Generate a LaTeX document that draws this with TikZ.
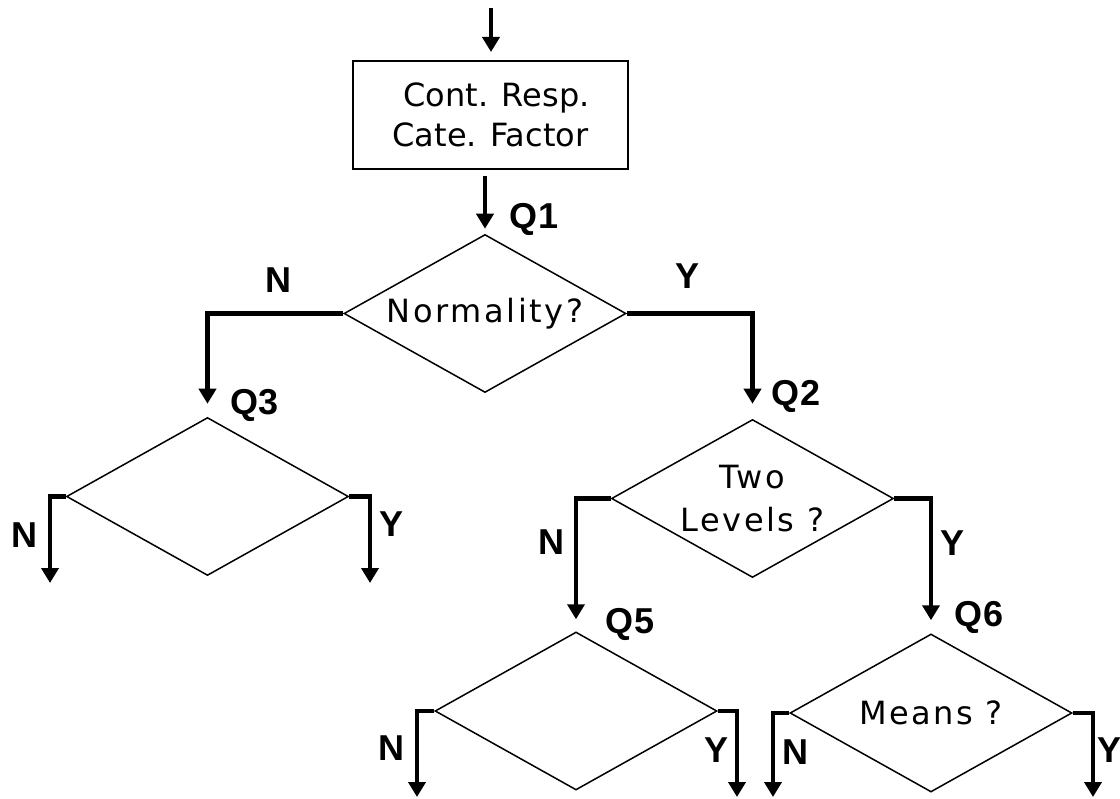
\documentclass[tikz,border=0pt]{standalone}
\usepackage{fontspec}
\setmainfont{Liberation Sans}
\newfontfamily\dfont[LetterSpace=8]{DejaVu Sans}
\newfontfamily\bfont{DejaVu Sans}
\usetikzlibrary{shapes.geometric,arrows.meta}
\begin{document}
\begin{tikzpicture}[x=1pt,y=-1pt,
  dec/.style={diamond, draw, line width=1.5pt, minimum width=282pt, minimum height=158pt,
    inner sep=0pt, aspect=1.78, align=center, font=\dfont\fontsize{32}{43}\selectfont},
  flow/.style={line width=4.8pt, -{Triangle[length=15pt,width=17pt]}},
  lbl/.style={font=\fontsize{36}{40}\selectfont\bfseries, inner sep=0pt},
  procbox/.style={draw, line width=2pt, minimum width=275pt, minimum height=108pt,
    inner sep=0pt, align=center, font=\bfont\fontsize{32}{40}\selectfont}]
\useasboundingbox (0,0) rectangle (1120,799);

\node[procbox] (box) at (490.5,115) {\hspace*{12pt}Cont. Resp.\\Cate. Factor};
\node[dec] (q1) at (485,313.5) {Normality?};
\node[dec] (q3) at (207.5,496.5) {};
\node[dec] (q2) at (752.5,498.5) {Two\\Levels ?};
\node[dec] (q5) at (576,711) {};
\node[dec] (q6) at (931,713) {Means ?};

\coordinate (start) at (491,8);
\coordinate (q3n) at (50,583);
\coordinate (q3y) at (370,583);
\coordinate (q5n) at (417,797);
\coordinate (q5y) at (737,797);
\coordinate (q6n) at (773,797);
\coordinate (q6y) at (1093,797);

\draw[flow, shorten >=8pt] (start) -- (start |- box.north);
\draw[flow, shorten <=6pt, shorten >=5pt] (box.south -| q1.north) -- (q1.north);
\draw[flow, shorten >=13pt] (q1.west) -| (q3.north);
\draw[flow, shorten >=15pt] (q1.east) -| (q2.north);
\draw[flow] (q3.west) -| (q3n);
\draw[flow] (q3.east) -| (q3y);
\draw[flow, shorten >=12pt] (q2.west) -| (q5.north);
\draw[flow, shorten >=13pt] (q2.east) -| (q6.north);
\draw[flow] (q5.west) -| (q5n);
\draw[flow] (q5.east) -| (q5y);
\draw[flow] (q6.west) -| (q6n);
\draw[flow] (q6.east) -| (q6y);

\node[lbl] (lq1) at (534,219) {Q1};
\node[lbl] (ln1) at (278,280) {N};
\node[lbl] (ly1) at (688,276) {Y};
\node[lbl] (lq3) at (255,405) {Q3};
\node[lbl] (lq2) at (796,396) {Q2};
\node[lbl] (ln3) at (24,535) {N};
\node[lbl] (ly3) at (392,524) {Y};
\node[lbl] (ln2) at (551,542) {N};
\node[lbl] (ly2) at (952,543) {Y};
\node[lbl] (lq5) at (630,624) {Q5};
\node[lbl] (lq6) at (979,617) {Q6};
\node[lbl] (ln5) at (391,748) {N};
\node[lbl] (ly5) at (716,750) {Y};
\node[lbl] (ln6) at (795,752) {N};
\node[lbl] (ly6) at (1109,750) {Y};
\end{tikzpicture}
\end{document}
